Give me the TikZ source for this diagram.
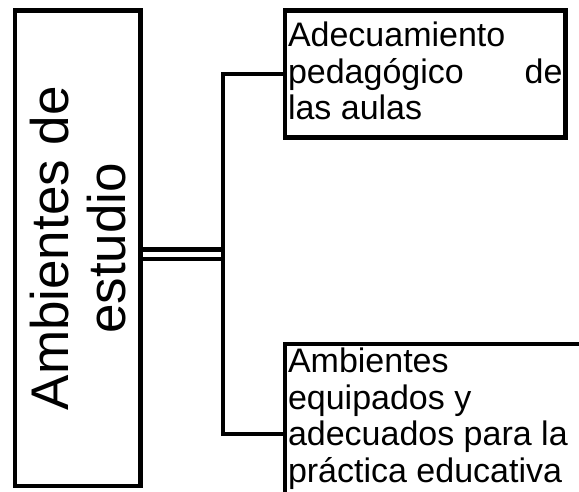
\documentclass[tikz,border=0pt]{standalone}
\usepackage{fontspec}
\setmainfont{Liberation Sans}
\usepackage{tikz}

\begin{document}
\begin{tikzpicture}[x=1pt,y=-1pt,
    caja/.style={draw, line width=4.5pt},
    linea/.style={line width=4.5pt}]
  \useasboundingbox (0,0) rectangle (579,491);
  \clip (0,0) rectangle (579,491);
  % cuadro principal (girado)
  \node[caja, rotate=90, minimum width=475.5pt, minimum height=125.5pt,
        align=center, font=\fontsize{53}{57}\selectfont] (ambientes)
        at (77.75,248.25) {Ambientes de\\estudio};
  \node[caja, anchor=north west, inner xsep=3pt, inner ysep=11.7pt,
        font=\fontsize{34}{36.5}\selectfont] (adecuamiento) at (282.75,8.25)
        {\parbox[c][103.6pt][t]{274.5pt}{Adecuamiento\\pedagógico\hfill de\\las aulas}};
  \node[caja, anchor=north west, inner xsep=3pt, inner ysep=4.2pt,
        font=\fontsize{34}{36.5}\selectfont] (equipados) at (282.75,341.75)
        {\parbox[c][171.6pt][t]{329pt}{\raggedright Ambientes\\equipados y\\adecuados para la\\práctica educativa}};
  \coordinate (split) at (223,254);
  \draw[linea, double, double distance=5pt] (ambientes.south |- split) -- (split);
  \draw[linea] (adecuamiento.west) -| (split) |- (equipados.west);
\end{tikzpicture}
\end{document}
